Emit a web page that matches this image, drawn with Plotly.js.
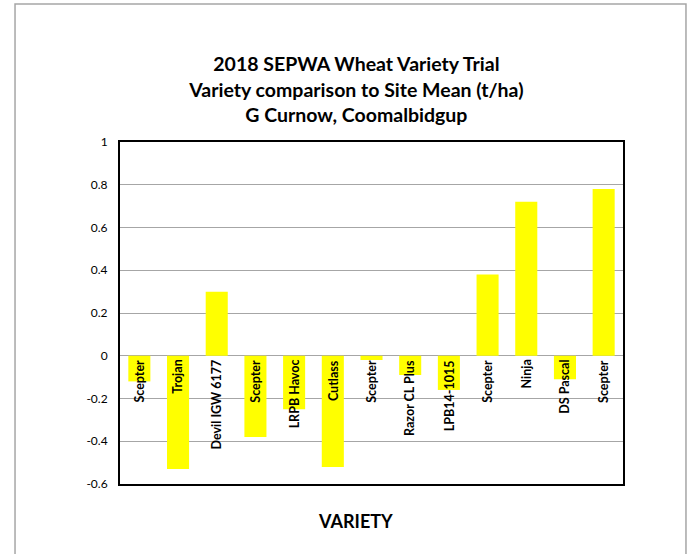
<!DOCTYPE html>
<html>
<head>
<meta charset="utf-8">
<script src="https://cdn.plot.ly/plotly-3.0.1.min.js"></script>
<style>
  html, body { margin: 0; padding: 0; background: #fff; }
  #chart { width: 688px; height: 554px; }
</style>
</head>
<body>
<div id="chart"></div>
<script>
const varieties = ["Scepter", "Trojan", "Devil IGW 6177", "Scepter", "LRPB Havoc", "Cutlass", "Scepter", "Razor CL Plus", "LPB14-1015", "Scepter", "Ninja", "DS Pascal", "Scepter"];
const diffFromMean = [-0.12, -0.53, 0.30, -0.38, -0.25, -0.52, -0.02, -0.09, -0.16, 0.38, 0.72, -0.11, 0.78];
const yTicks = [-0.6, -0.4, -0.2, 0, 0.2, 0.4, 0.6, 0.8, 1];
const yTickText = ["-0.6", "-0.4", "-0.2", "0", "0.2", "0.4", "0.6", "0.8", "1"];
const xTitle = "VARIETY";

const positions = varieties.map((_, i) => i);
const FONT = "Lato, 'Open Sans', 'Liberation Sans', sans-serif";

const trace = {
  type: "bar",
  x: positions,
  y: diffFromMean,
  width: 0.57,
  marker: { color: "#FFFF00", line: { width: 0 } },
  hoverinfo: "skip"
};

const annotations = varieties.map((name, i) => ({
  x: positions[i],
  y: 0,
  xref: "x",
  yref: "y",
  text: "<b>" + name + "</b>",
  textangle: -90,
  showarrow: false,
  xanchor: "center",
  yanchor: "top",
  yshift: -2,
  font: { family: FONT, size: 12.5, color: "#000" }
}));

annotations.push({
  x: 0.468,
  y: -0.108,
  xref: "paper",
  yref: "paper",
  text: "<b>" + xTitle + "</b>",
  showarrow: false,
  xanchor: "center",
  yanchor: "middle",
  font: { family: FONT, size: 18, color: "#000" }
});

const layout = {
  width: 688,
  height: 554,
  margin: { l: 120, r: 65, t: 142, b: 70 },
  paper_bgcolor: "#fff",
  plot_bgcolor: "#fff",
  showlegend: false,
  title: {
    text: "<b>2018 SEPWA Wheat Variety Trial<br>Variety comparison to Site Mean (t/ha)<br>G Curnow, Coomalbidgup</b>",
    font: { family: FONT, size: 19.5, color: "#000" },
    x: 0.470,
    xref: "paper",
    xanchor: "center",
    y: 0.871,
    yanchor: "middle"
  },
  xaxis: {
    range: [-0.5, 12.5],
    showticklabels: false,
    ticks: "",
    showgrid: false,
    zeroline: false,
    showline: true,
    mirror: true,
    linecolor: "#000",
    linewidth: 2,
    fixedrange: true
  },
  yaxis: {
    range: [-0.6, 1],
    tickvals: yTicks,
    ticktext: yTickText,
    ticks: "",
    tickfont: { family: FONT, size: 12, color: "#000" },
    showgrid: true,
    gridcolor: "#A6A6A6",
    gridwidth: 1,
    zeroline: true,
    zerolinecolor: "#A6A6A6",
    zerolinewidth: 1,
    showline: true,
    mirror: true,
    linecolor: "#000",
    linewidth: 2,
    ticklabelstandoff: 8,
    fixedrange: true
  },
  annotations: annotations,
  shapes: [{
    type: "rect",
    xref: "paper",
    yref: "paper",
    x0: -0.2087,
    x1: 1.1252,
    y0: -0.25,
    y1: 1.4035,
    line: { color: "#A6A6A6", width: 1.5 },
    layer: "below"
  }]
};

Plotly.newPlot("chart", [trace], layout, { displayModeBar: false, staticPlot: true });
</script>
</body>
</html>
